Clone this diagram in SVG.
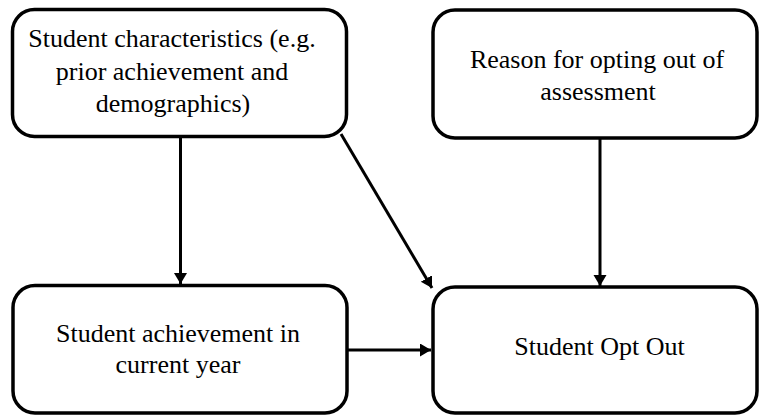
<svg xmlns="http://www.w3.org/2000/svg" width="760" height="416" viewBox="0 0 760 416">
<style>
.box{fill:#fff;stroke:#000;stroke-width:3.5}
.lbl{font-family:"Liberation Serif","Times New Roman",serif;font-size:26px;fill:#000;text-anchor:middle}
.conn{stroke:#000;stroke-width:3;fill:none}
</style>
<defs>
<marker id="ah" markerUnits="userSpaceOnUse" markerWidth="12" markerHeight="14" refX="11" refY="6.5" orient="auto">
<path d="M0,0 L11,6.5 L0,13 z" fill="#000"/>
</marker>
</defs>
<rect width="760" height="416" fill="#fff"/>
<g id="connectors">
<line class="conn" x1="180.5" y1="137" x2="180.5" y2="284" marker-end="url(#ah)"/>
<line class="conn" x1="341" y1="134" x2="432" y2="288" marker-end="url(#ah)"/>
<line class="conn" x1="600" y1="139" x2="600" y2="286" marker-end="url(#ah)"/>
<line class="conn" x1="347" y1="350" x2="431" y2="350" marker-end="url(#ah)"/>
</g>
<g id="characteristics">
<rect class="box" x="12.5" y="9.5" width="334" height="127" rx="22"/>
<text class="lbl" x="172" y="47">Student characteristics (e.g.</text>
<text class="lbl" x="172" y="80">prior achievement and</text>
<text class="lbl" x="173" y="112">demographics)</text>
</g>
<g id="reason">
<rect class="box" x="433" y="10" width="324" height="128" rx="22"/>
<text class="lbl" x="597" y="68">Reason for opting out of</text>
<text class="lbl" x="598" y="100">assessment</text>
</g>
<g id="achievement">
<rect class="box" x="13" y="285.5" width="334" height="127.5" rx="22"/>
<text class="lbl" x="178" y="342">Student achievement in</text>
<text class="lbl" x="178" y="373">current year</text>
</g>
<g id="optout">
<rect class="box" x="433" y="287" width="324" height="126" rx="22"/>
<text class="lbl" x="599.5" y="355">Student Opt Out</text>
</g>
</svg>
